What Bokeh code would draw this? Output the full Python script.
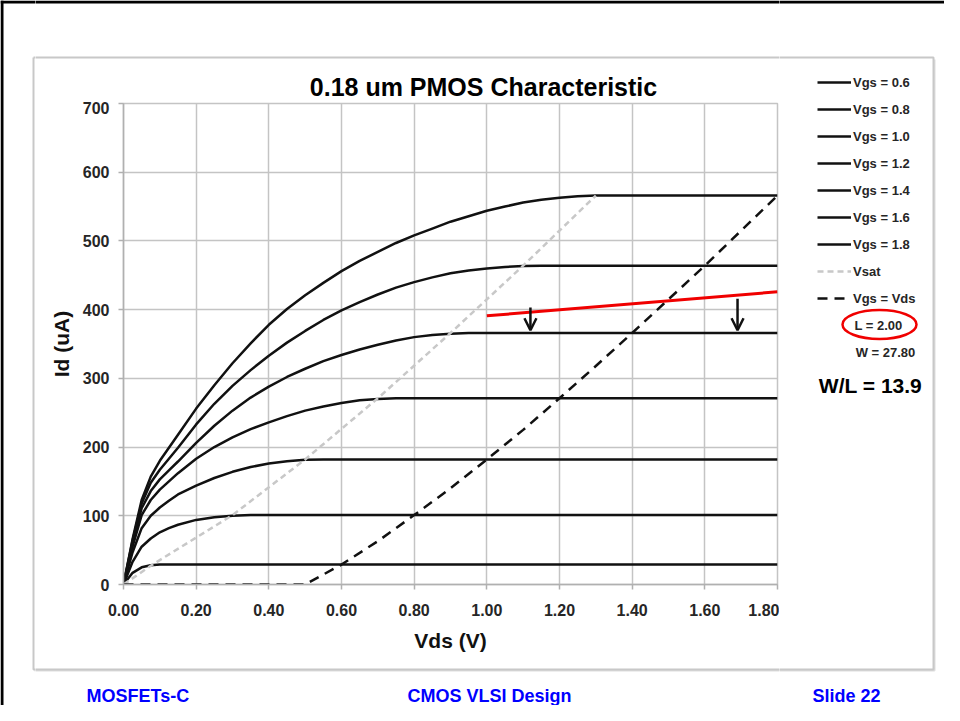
from bokeh.plotting import figure
from bokeh.layouts import row, column
from bokeh.models import (Range1d, FixedTicker, Legend, LegendItem, Label, Arrow, OpenHead)
from bokeh.embed import file_html
from bokeh.resources import INLINE

# ---------------- data ----------------
vds = [0, 0.025, 0.05, 0.075, 0.1, 0.125, 0.15, 0.2, 0.25, 0.3, 0.35, 0.4, 0.45, 0.5,
       0.55, 0.6, 0.65, 0.7, 0.75, 0.8, 0.85, 0.9, 0.95, 1.0, 1.05, 1.1, 1.15, 1.2,
       1.25, 1.3, 1.4, 1.5, 1.6, 1.7, 1.8]
id_vgs06 = [0, 17, 25, 28, 29, 29, 29, 29, 29, 29, 29, 29, 29, 29,
            29, 29, 29, 29, 29, 29, 29, 29, 29, 29, 29, 29, 29, 29,
            29, 29, 29, 29, 29, 29, 29]
id_vgs08 = [0, 33, 55, 67, 76, 82, 87, 94, 98, 100, 101, 101, 101, 101,
            101, 101, 101, 101, 101, 101, 101, 101, 101, 101, 101, 101, 101, 101,
            101, 101, 101, 101, 101, 101, 101]
id_vgs10 = [0, 47, 82, 100, 112, 122, 131, 144, 155, 164, 171, 176, 179.5, 181.5,
            182, 182, 182, 182, 182, 182, 182, 182, 182, 182, 182, 182, 182, 182,
            182, 182, 182, 182, 182, 182, 182]
id_vgs12 = [0, 55, 101, 123, 138, 150, 162, 183, 200, 214, 226, 236, 245, 253,
            259, 264, 268, 270, 271, 271, 271, 271, 271, 271, 271, 271, 271, 271,
            271, 271, 271, 271, 271, 271, 271]
id_vgs14 = [0, 60, 111, 136, 153, 166, 179, 206, 231, 253, 272, 288, 302, 314,
            325, 334, 342, 349, 355, 360, 363, 365, 366, 366, 366, 366, 366, 366,
            366, 366, 366, 366, 366, 366, 366]
id_vgs16 = [0, 64, 118, 148, 167, 183, 199, 233, 263, 289, 312, 333, 352, 369,
            385, 399, 411, 422, 432, 440, 447, 453, 457, 460, 462, 463.5, 464, 464,
            464, 464, 464, 464, 464, 464, 464]
id_vgs18 = [0, 66, 123, 157, 180, 199, 218, 256, 290, 322, 351, 378, 401, 421,
            439, 456, 471, 484, 497, 508, 518, 528, 536, 544, 550, 556, 560, 563,
            565, 566, 566, 566, 566, 566, 566]
vgs_labels = ["Vgs = 0.6", "Vgs = 0.8", "Vgs = 1.0", "Vgs = 1.2",
              "Vgs = 1.4", "Vgs = 1.6", "Vgs = 1.8"]

vsat_x = [0, 0.08, 0.3, 0.5, 0.7, 0.9, 1.1, 1.3]
vsat_y = [0, 29, 101, 182, 271, 366, 464, 566]

vgsvds_x = [0, 0.5, 0.6, 0.7, 0.8, 0.9, 1.0, 1.1, 1.2, 1.3, 1.4, 1.5, 1.6, 1.7, 1.8]
vgsvds_y = [0, 0, 29, 63, 101, 140, 182, 225, 271, 318, 366, 415, 464, 515, 566]

# annotation (red line + arrows)
red_x = [1.0, 1.8]
red_y = [391, 426]
arrow_x = [1.12, 1.69]
arrow_top = [403, 416]
arrow_tip = [370, 370]

x_ticks = [0, 0.2, 0.4, 0.6, 0.8, 1.0, 1.2, 1.4, 1.6, 1.8]
x_tick_labels = ["0.00", "0.20", "0.40", "0.60", "0.80", "1.00", "1.20", "1.40", "1.60", "1.80"]
y_ticks = [0, 100, 200, 300, 400, 500, 600, 700]

# ---------------- page geometry (pixels) ----------------
PAGE_W, PAGE_H = 944, 705
FRAME_L, FRAME_R, FRAME_T, FRAME_B = 123, 777, 103, 584
MAIN_X0, MAIN_X1, MAIN_Y0, MAIN_Y1 = 35, 779, 101, 667
BOX = (33, 57, 933, 669)
FONT = "Liberation Sans"
BLACK = "#111111"


def deco(x0, x1, y0, y1):
    """A drawing panel whose data space is the page's pixel space."""
    f = figure(width=x1 - x0, height=y1 - y0, output_backend="svg",
               toolbar_location=None, x_range=Range1d(x0, x1),
               y_range=Range1d(y1, y0), x_axis_type=None, y_axis_type=None,
               min_border=0, outline_line_color=None)
    f.grid.visible = False
    f.background_fill_color = "white"
    f.border_fill_color = "white"
    bx0, by0, bx1, by1 = BOX
    f.line([bx1 + 1, bx1 + 1, bx0 + 1], [by0 + 2, by1 + 1, by1 + 1],
           line_color="#dddddd", line_width=2)
    f.line([bx0, bx1, bx1, bx0, bx0], [by0, by0, by1, by1, by0],
           line_color="#c8c8c8", line_width=2)
    f.line([0, PAGE_W], [1.5, 1.5], line_color="black", line_width=3)
    f.line([1.5, 1.5], [0, PAGE_H], line_color="black", line_width=3)
    return f


def text(f, x, y, s, size, color=BLACK, align="center", baseline="middle"):
    f.add_layout(Label(x=x, y=y, text=s, text_align=align, text_baseline=baseline,
                       text_font=FONT, text_font_style="bold",
                       text_font_size=size, text_color=color))


# ---------------- main chart ----------------
p = figure(width=MAIN_X1 - MAIN_X0, height=MAIN_Y1 - MAIN_Y0, output_backend="svg",
           toolbar_location=None, x_range=Range1d(0, 1.8), y_range=Range1d(0, 700),
           min_border_left=FRAME_L - MAIN_X0, min_border_right=MAIN_X1 - FRAME_R,
           min_border_top=FRAME_T - MAIN_Y0, min_border_bottom=MAIN_Y1 - FRAME_B)
p.background_fill_color = "white"
p.border_fill_color = "white"
p.outline_line_color = "#c4c4c4"
p.outline_line_width = 1.5

p.xaxis.ticker = FixedTicker(ticks=x_ticks)
p.xaxis.major_label_overrides = {t: l for t, l in zip(x_ticks, x_tick_labels)}
p.yaxis.ticker = FixedTicker(ticks=y_ticks)
p.xaxis.axis_label = "Vds (V)"
p.yaxis.axis_label = "Id (uA)"
for ax in (p.xaxis[0], p.yaxis[0]):
    ax.axis_line_color = "#b0b0b0"
    ax.axis_line_width = 1.5
    ax.major_tick_line_color = "#b0b0b0"
    ax.major_tick_line_width = 1.5
    ax.major_tick_out = 5
    ax.major_tick_in = 0
    ax.minor_tick_line_color = None
    ax.major_label_text_font = FONT
    ax.major_label_text_font_style = "bold"
    ax.major_label_text_font_size = "16px"
    ax.major_label_text_color = "#262626"
    ax.axis_label_text_font = FONT
    ax.axis_label_text_font_style = "bold"
    ax.axis_label_text_font_size = "21px"
    ax.axis_label_text_color = BLACK
p.xaxis.major_label_standoff = 14
p.xaxis.axis_label_standoff = 10
p.yaxis.major_label_standoff = 9
p.yaxis.axis_label_standoff = 7
p.grid.grid_line_color = "#c4c4c4"
p.grid.grid_line_width = 1.5

series = [id_vgs06, id_vgs08, id_vgs10, id_vgs12, id_vgs14, id_vgs16, id_vgs18]
curve_style = dict(line_color=BLACK, line_width=2.5)
vsat_style = dict(line_color="#c8c8c8", line_width=2.5, line_dash="6 4")
vgsvds_style = dict(line_color=BLACK, line_width=2.5, line_dash="10 7")
for ys in series:
    p.line(vds, ys, **curve_style)
p.line(vsat_x, vsat_y, **vsat_style)
p.line(vgsvds_x, vgsvds_y, **vgsvds_style)

p.line(red_x, red_y, line_color="#f00000", line_width=3)
for x, y0, y1 in zip(arrow_x, arrow_top, arrow_tip):
    p.add_layout(Arrow(x_start=x, y_start=y0, x_end=x, y_end=y1, line_width=2.5,
                       line_color=BLACK,
                       end=OpenHead(size=12, line_width=2.5, line_color=BLACK)))

# ---------------- surrounding panels ----------------
left = deco(0, MAIN_X0, 0, PAGE_H)
top = deco(MAIN_X0, MAIN_X1, 0, MAIN_Y0)
bottom = deco(MAIN_X0, MAIN_X1, MAIN_Y1, PAGE_H)
right = deco(MAIN_X1, PAGE_W, 0, PAGE_H)

text(top, 483, 86, "0.18 um PMOS Characteristic", "25px", color="#000000")
text(bottom, 86, 695, "MOSFETs-C", "18px", color="#0000ff", align="left")
text(bottom, 489, 695, "CMOS VLSI Design", "18px", color="#0000ff")
text(right, 846, 695, "Slide 22", "18px", color="#0000ff")

# legend (swatches come from off-screen one-point renderers with the chart's styles)
items = []
for lab in vgs_labels:
    items.append(LegendItem(label=lab, renderers=[right.line([-50], [-50], **curve_style)]))
items.append(LegendItem(label="Vsat", renderers=[right.line([-50], [-50], **vsat_style)]))
items.append(LegendItem(label="Vgs = Vds", renderers=[right.line([-50], [-50], **vgsvds_style)]))
leg = Legend(items=items, location=(817 - MAIN_X1, PAGE_H - 308),
             orientation="vertical", glyph_width=34, glyph_height=20,
             label_height=20, spacing=7, padding=0, margin=0, label_standoff=2,
             background_fill_alpha=0, border_line_alpha=0,
             label_text_font=FONT, label_text_font_style="bold",
             label_text_font_size="13px", label_text_color="#262626")
right.add_layout(leg)

text(right, 878, 325, "L = 2.00", "13px", color="#262626")
text(right, 885, 352, "W = 27.80", "13px", color="#262626")
text(right, 870, 385, "W/L = 13.9", "21px", color="#000000")
right.ellipse(x=[879], y=[324], width=[74], height=[29], fill_alpha=0,
              line_color="#f00000", line_width=2.5)

layout = row(left, column(top, row(p), bottom), right)
open("out.html", "w").write(file_html(layout, INLINE))
